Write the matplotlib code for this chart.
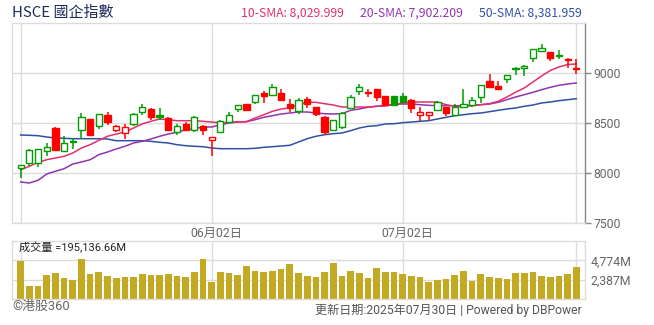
import matplotlib
matplotlib.use("Agg")
import matplotlib.pyplot as plt
import matplotlib.transforms as mtransforms

# ---- daily data (HSCE, 2025-04-29 .. 2025-07-30) ----
prior_close = 8040
opens = [8050, 8100, 8100, 8217, 8450, 8217, 8323, 8427, 8543, 8467,
         8583, 8430, 8400, 8490, 8610, 8643, 8580, 8550, 8407, 8493,
         8433, 8467, 8327, 8407, 8507, 8640, 8690, 8707, 8800, 8780,
         8803, 8690, 8623, 8740, 8660, 8560, 8430, 8457, 8650, 8823,
         8813, 8840, 8767, 8770, 8770, 8733, 8583, 8577, 8627, 8660,
         8583, 8660, 8680, 8760, 8920, 8870, 8940, 9050, 9050, 9150,
         9217, 9210, 9180, 9143, 9050]
highs = [8077, 8240, 8245, 8300, 8460, 8373, 8350, 8600, 8543, 8590,
         8610, 8480, 8490, 8600, 8693, 8650, 8650, 8557, 8493, 8507,
         8567, 8483, 8360, 8527, 8610, 8677, 8690, 8780, 8823, 8893,
         8843, 8743, 8750, 8760, 8660, 8573, 8530, 8607, 8783, 8890,
         8840, 8840, 8767, 8770, 8800, 8743, 8660, 8610, 8717, 8660,
         8690, 8843, 8760, 8880, 8993, 8923, 8980, 9060, 9080, 9240,
         9293, 9210, 9230, 9150, 9140]
lows = [7950, 8067, 8057, 8167, 8233, 8217, 8243, 8343, 8367, 8443,
        8477, 8407, 8343, 8467, 8583, 8533, 8533, 8417, 8377, 8417,
        8407, 8383, 8173, 8407, 8507, 8610, 8617, 8690, 8700, 8780,
        8717, 8607, 8590, 8650, 8567, 8383, 8430, 8440, 8640, 8780,
        8760, 8723, 8677, 8680, 8713, 8597, 8517, 8533, 8617, 8573,
        8577, 8660, 8660, 8700, 8860, 8827, 8900, 8980, 8967, 9107,
        9207, 9117, 9140, 9050, 8990]
closes = [8077, 8233, 8238, 8260, 8233, 8300, 8307, 8560, 8383, 8590,
          8507, 8473, 8460, 8590, 8660, 8557, 8563, 8433, 8473, 8433,
          8560, 8427, 8360, 8517, 8577, 8677, 8627, 8780, 8767, 8857,
          8727, 8647, 8730, 8690, 8590, 8407, 8530, 8597, 8760, 8860,
          8800, 8760, 8677, 8683, 8713, 8647, 8613, 8610, 8710, 8600,
          8660, 8690, 8730, 8880, 8860, 8843, 8980, 9037, 9070, 9240,
          9250, 9150, 9167, 9130, 9037]
volumes = [4649, 1633, 1633, 3015, 3267, 2638, 2387, 4900, 3141, 3392,
           2890, 2638, 2764, 2764, 3141, 3015, 3015, 3141, 2890, 2764,
           3392, 4900, 2136, 3392, 3267, 3015, 4020, 3518, 3392, 3518,
           3644, 4272, 3267, 2890, 2764, 3392, 4397, 2890, 3518, 3267,
           2638, 3769, 3392, 3392, 3141, 2890, 2764, 2136, 2387, 2513,
           3015, 3518, 2261, 3141, 2764, 2638, 2513, 3267, 3267, 3392,
           2890, 2764, 2890, 3141, 3895]
sma10 = [8033, 8067, 8107, 8133, 8150, 8167, 8200, 8250, 8283, 8327,
         8367, 8390, 8410, 8450, 8490, 8517, 8540, 8533, 8523, 8523,
         8523, 8517, 8510, 8500, 8507, 8513, 8513, 8550, 8583, 8617,
         8640, 8650, 8683, 8707, 8707, 8693, 8680, 8660, 8660, 8660,
         8660, 8667, 8673, 8680, 8700, 8710, 8710, 8710, 8710, 8683,
         8667, 8667, 8673, 8683, 8693, 8717, 8760, 8807, 8850, 8910,
         8970, 9025, 9060, 9085, 9090]
sma20 = [7910, 7900, 7927, 7990, 8017, 8043, 8090, 8110, 8133, 8183,
         8210, 8240, 8267, 8300, 8317, 8340, 8367, 8390, 8407, 8433,
         8443, 8460, 8460, 8483, 8500, 8510, 8513, 8533, 8557, 8573,
         8590, 8600, 8610, 8610, 8600, 8593, 8590, 8593, 8627, 8640,
         8657, 8667, 8673, 8687, 8690, 8690, 8683, 8677, 8673, 8673,
         8673, 8673, 8677, 8683, 8690, 8707, 8733, 8760, 8783, 8807,
         8833, 8857, 8877, 8890, 8900]
sma50 = [8380, 8377, 8373, 8360, 8350, 8347, 8343, 8343, 8343, 8343,
         8340, 8323, 8323, 8323, 8323, 8317, 8307, 8300, 8283, 8273,
         8267, 8263, 8250, 8243, 8243, 8243, 8243, 8247, 8257, 8263,
         8270, 8277, 8310, 8343, 8367, 8383, 8393, 8400, 8423, 8450,
         8467, 8473, 8490, 8493, 8503, 8510, 8517, 8523, 8540, 8557,
         8573, 8583, 8593, 8600, 8613, 8627, 8640, 8650, 8667, 8680,
         8700, 8710, 8723, 8733, 8743]

date_ticks = [22, 44]
date_labels = ["06月02日", "07月02日"]
grid_days = [0, 22, 44, 64]
price_ticks = [7500, 8000, 8500, 9000]
vol_step = 2387

title_text = "HSCE 國企指數"
sma_texts = ["10-SMA: 8,029.999", "20-SMA: 7,902.209", "50-SMA: 8,381.959"]
vol_text = "成交量 =195,136.66M"
credit_text = "©港股360"
update_text = "更新日期:2025年07月30日 | Powered by DBPower"

# ---- styling ----
UP = "#009c00"
DOWN = "#ff0000"
C10, C20, C50 = "#e2306a", "#9134b0", "#3050a5"
VOLC = "#c3aa22"
GRID = "#dcdcdc"
TXT = "#666666"
NARROW = ["Liberation Sans Narrow", "Noto Sans CJK TC", "DejaVu Sans"]
CJK = ["Roboto", "Noto Sans CJK TC", "DejaVu Sans"]

W, H = 654, 325
fig = plt.figure(figsize=(W / 100, H / 100), dpi=100)
fig.patch.set_facecolor("white")


def box(left, top, right, bottom):
    return [left / W, 1 - bottom / H, (right - left) / W, (bottom - top) / H]


ax = fig.add_axes(box(12, 23, 585, 223))
axv = fig.add_axes(box(12, 241, 585, 299))

n = len(closes)
xs = list(range(n))

# ---- price panel ----
for gx in grid_days:
    ax.axvline(gx, color=GRID, lw=1, zorder=0)
for gy in price_ticks:
    ax.axhline(gy, color=GRID, lw=1, zorder=0)

ax.plot(xs, sma50, color=C50, lw=1.1, zorder=2)
ax.plot(xs, sma20, color=C20, lw=1.1, zorder=2)
ax.plot(xs, sma10, color=C10, lw=1.1, zorder=2)

prev = [prior_close] + closes[:-1]
body_w = 0.72
for i in range(n):
    o, h, l, c = opens[i], highs[i], lows[i], closes[i]
    col = UP if c >= prev[i] else DOWN
    hollow = c > o
    ax.vlines(i, l, h, color=col, lw=1.1, zorder=3)
    lo = min(o, c)
    ht = max(abs(c - o), 6)
    ax.bar(i, ht, bottom=lo, width=body_w,
           facecolor="white" if hollow else col,
           edgecolor=col, linewidth=1.0, zorder=4)

ax.set_xlim(-1, 65)
ax.set_ylim(7500, 9500)
ax.yaxis.tick_right()
ax.set_yticks(price_ticks)
ax.set_yticklabels([str(v) for v in price_ticks], family=CJK, fontsize=8.8, color=TXT)
ax.tick_params(axis="y", length=4, width=1, color="#888888", pad=2)
ax.set_xticks(date_ticks)
ax.set_xticklabels(date_labels, family=CJK, fontsize=8.8, color=TXT)
ax.tick_params(axis="x", length=0, pad=3)
shift = mtransforms.ScaledTranslation(4.5 / 100, 0, fig.dpi_scale_trans)
for lab in ax.get_xticklabels():
    lab.set_transform(lab.get_transform() + shift)
for side in ["left", "top", "bottom"]:
    ax.spines[side].set_color(GRID)
    ax.spines[side].set_linewidth(1)
ax.spines["right"].set_color("#888888")
ax.spines["right"].set_linewidth(1)

# ---- volume panel ----
vol_ticks = [vol_step, 2 * vol_step]
for gx in grid_days:
    axv.axvline(gx, color=GRID, lw=1, zorder=0)
for gy in vol_ticks:
    axv.axhline(gy, color=GRID, lw=1, zorder=0)
axv.bar(xs, volumes, width=0.77, color=VOLC, zorder=2)
axv.set_xlim(-1, 65)
axv.set_ylim(0, 3 * vol_step)
axv.yaxis.tick_right()
axv.set_yticks(vol_ticks)
axv.set_yticklabels([f"{v:,}M" for v in vol_ticks], family=CJK, fontsize=8.8, color=TXT)
axv.tick_params(axis="y", length=0, pad=4)
axv.set_xticks([])
for side in axv.spines:
    axv.spines[side].set_color(GRID)
    axv.spines[side].set_linewidth(1)

# ---- texts ----
fig.text(12 / W, 1 - 13.5 / H, title_text, family=NARROW, fontsize=10.8,
         color="#1d2b5a", ha="left", va="center")
for xpos, txt, col in zip([241, 360, 479], sma_texts, [C10, C20, C50]):
    fig.text(xpos / W, 1 - 13.5 / H, txt, family=NARROW, fontsize=8.8,
             color=col, ha="left", va="center")
fig.text(19 / W, 1 - 248 / H, vol_text, family=CJK, fontsize=8,
         color="#222222", ha="left", va="center")
fig.text(12 / W, 1 - 306 / H, credit_text, family=CJK, fontsize=9.3,
         color=TXT, ha="left", va="center")
fig.text(582 / W, 1 - 310 / H, update_text, family=CJK, fontsize=8.7,
         color="#555555", ha="right", va="center")

fig.savefig("out.png", dpi=100, facecolor="white")
